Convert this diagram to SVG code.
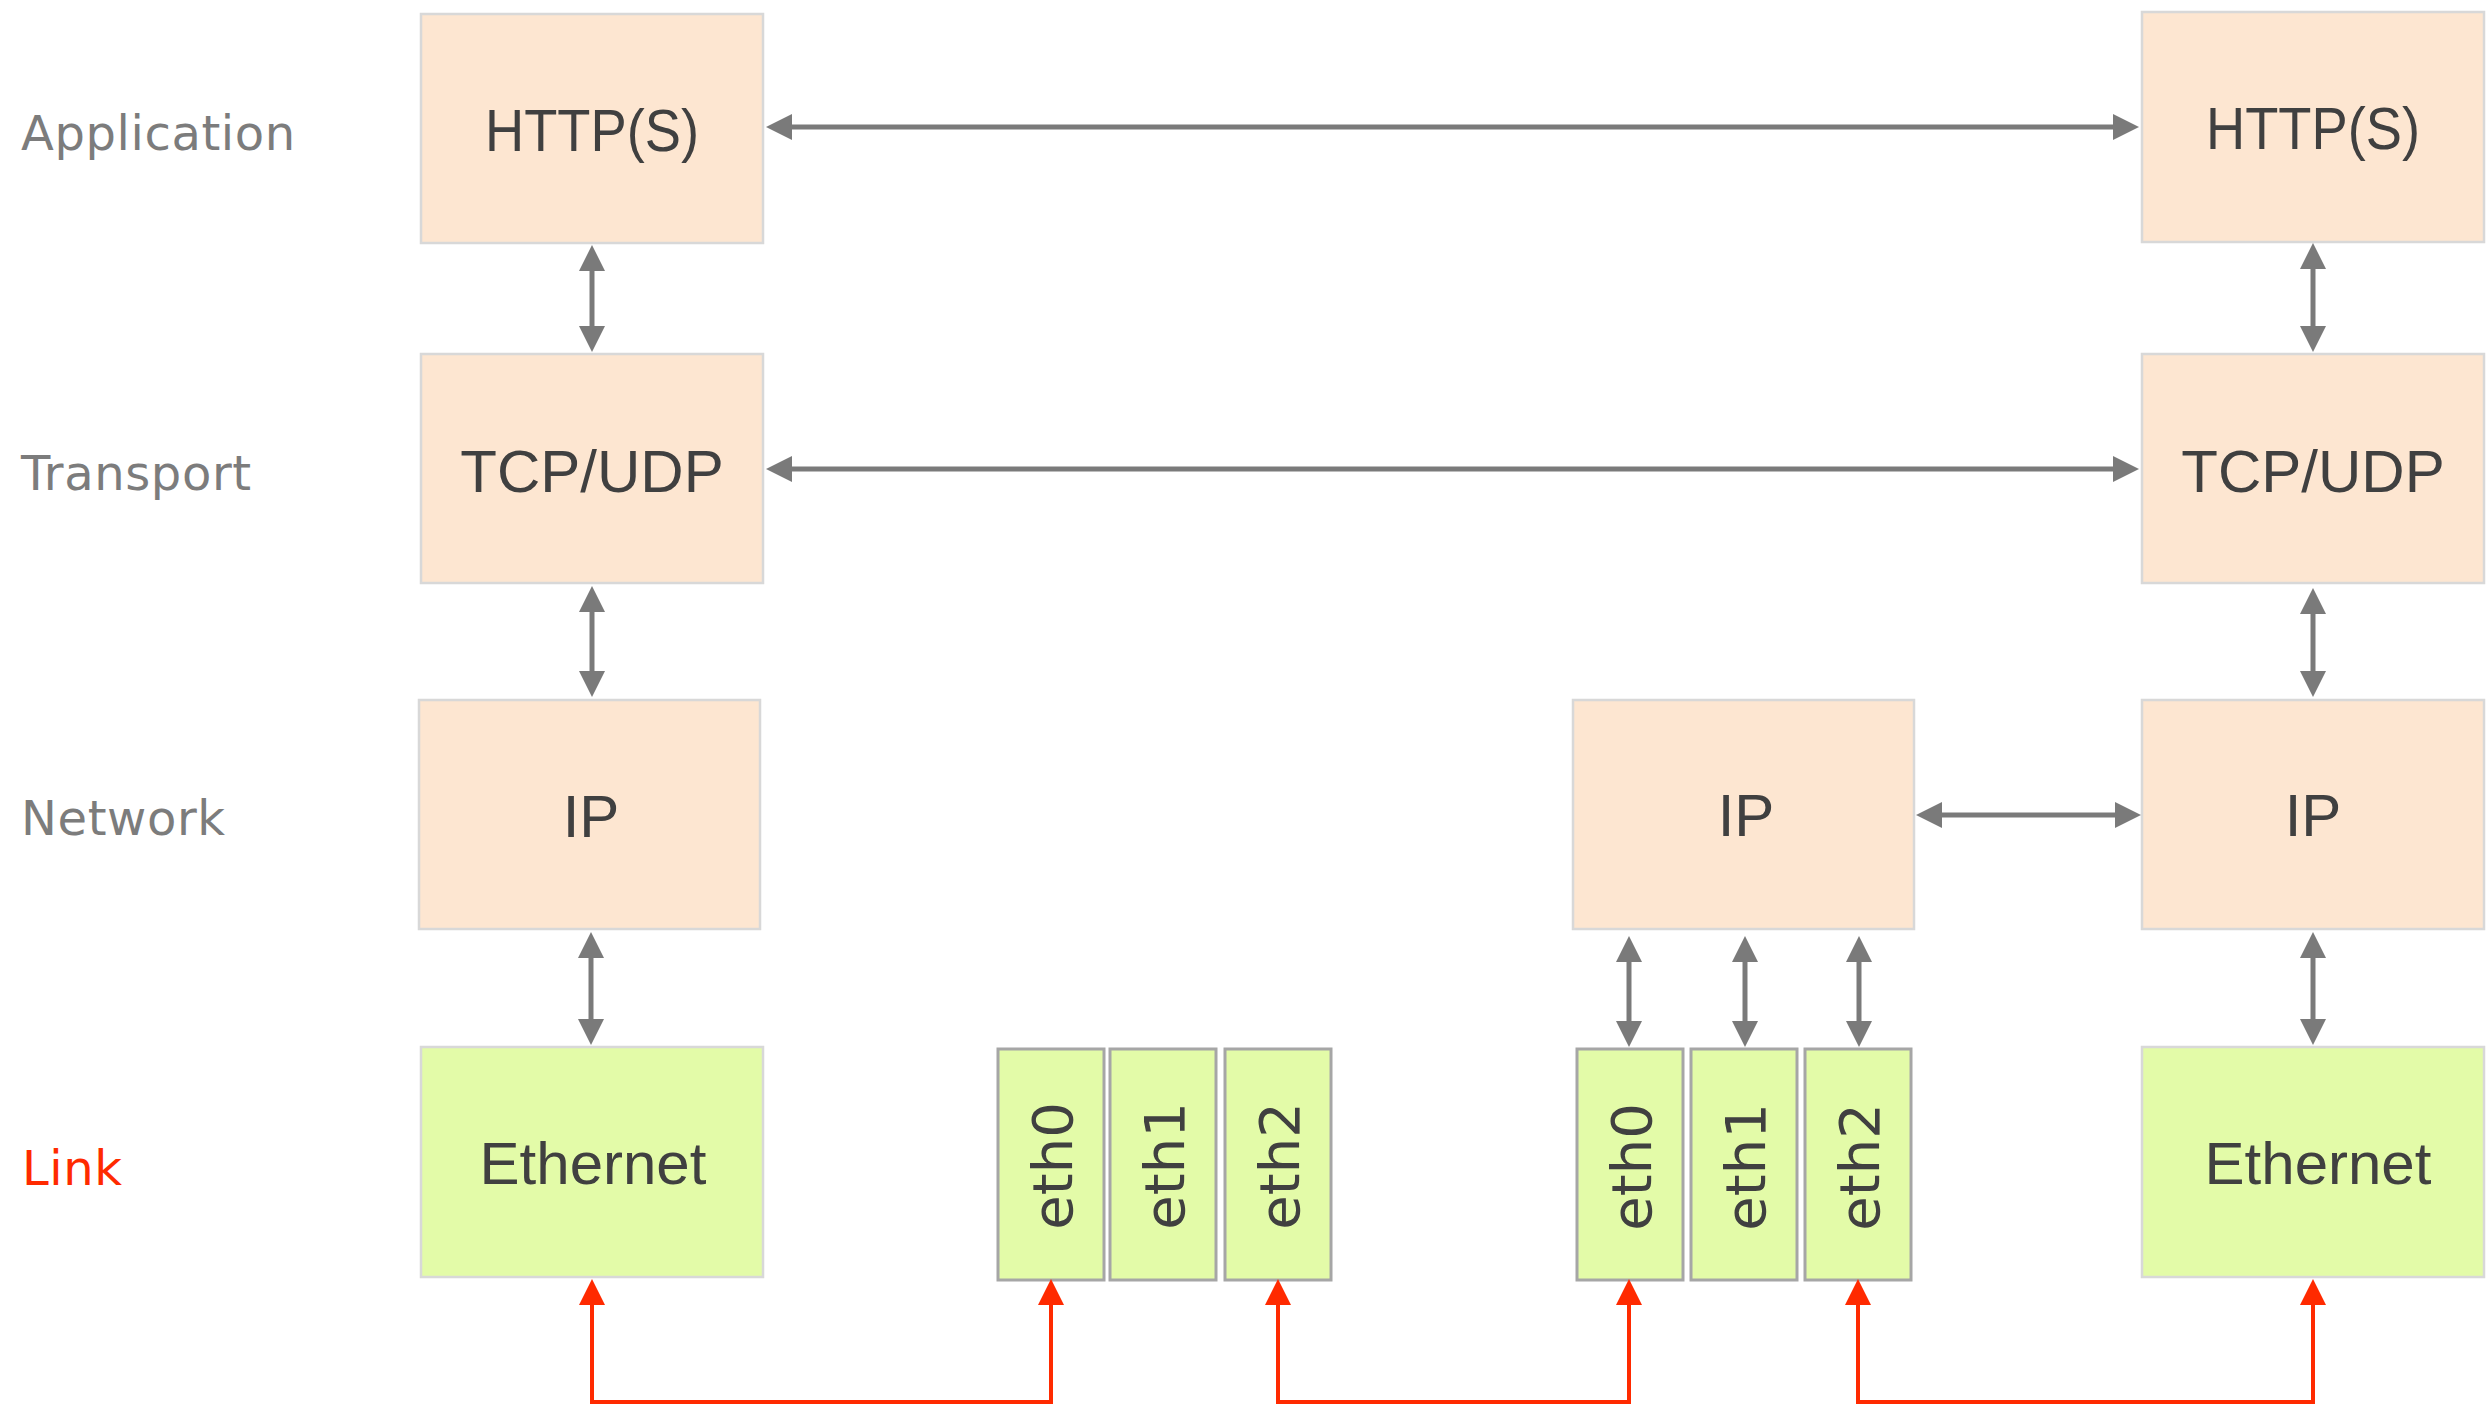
<svg xmlns="http://www.w3.org/2000/svg" width="2492" height="1404" viewBox="0 0 2492 1404">
<style>
.box{fill:#fde6d1;stroke:#d8d8d8;stroke-width:2.5}
.lk{fill:#e3fba8;stroke:#d8d8d8;stroke-width:2.5}
.eth{fill:#e3fba8;stroke:#a6a6a6;stroke-width:3}
.t{font-family:"Liberation Sans",Arial,sans-serif;font-size:60px;fill:#404040;text-anchor:middle}
.m{font-family:"DejaVu Sans",Verdana,sans-serif;font-size:56px;fill:#404040;text-anchor:middle}
.lbl{font-family:"DejaVu Sans",Verdana,sans-serif;font-size:48px;fill:#7c7c7c;letter-spacing:0.6px}
.g{fill:none;stroke:#7a7a7a;stroke-width:5;marker-start:url(#ga);marker-end:url(#ga)}
.r{fill:none;stroke:#ff2a00;stroke-width:4;marker-start:url(#ra);marker-end:url(#ra)}
</style>
<defs>
<marker id="ga" markerUnits="userSpaceOnUse" markerWidth="26" markerHeight="26" refX="6" refY="13" orient="auto-start-reverse" viewBox="0 0 26 26"><path d="M0,0 L26,13 L0,26 z" fill="#7a7a7a"/></marker>
<marker id="ra" markerUnits="userSpaceOnUse" markerWidth="26" markerHeight="26" refX="4" refY="13" orient="auto-start-reverse" viewBox="0 0 26 26"><path d="M0,0 L26,13 L0,26 z" fill="#ff2a00"/></marker>
</defs>
<rect width="2492" height="1404" fill="#ffffff"/>

<g id="layer-labels">
<text class="lbl" x="21" y="150">Application</text>
<text class="lbl" x="21" y="490">Transport</text>
<text class="lbl" x="21" y="835">Network</text>
<text class="lbl" x="22" y="1185" style="fill:#ff2a00">Link</text>
</g>

<g id="left-http"><rect class="box" x="421" y="14" width="342" height="229"/><text class="t" x="592" y="151" textLength="214" lengthAdjust="spacingAndGlyphs">HTTP(S)</text></g>
<g id="left-tcp"><rect class="box" x="421" y="354" width="342" height="229"/><text class="t" x="592" y="492">TCP/UDP</text></g>
<g id="left-ip"><rect class="box" x="419" y="700" width="341" height="229"/><text class="t" x="591" y="837">IP</text></g>
<g id="left-ethernet"><rect class="lk" x="421" y="1047" width="342" height="230"/><text class="t" x="593" y="1184">Ethernet</text></g>

<g id="sw-eth0"><rect class="eth" x="998" y="1049" width="106" height="231"/><text class="m" transform="translate(1072,1166) rotate(-90)">eth0</text></g>
<g id="sw-eth1"><rect class="eth" x="1110" y="1049" width="106" height="231"/><text class="m" transform="translate(1184,1166) rotate(-90)">eth1</text></g>
<g id="sw-eth2"><rect class="eth" x="1225" y="1049" width="106" height="231"/><text class="m" transform="translate(1299,1166) rotate(-90)">eth2</text></g>

<g id="router-ip"><rect class="box" x="1573" y="700" width="341" height="229"/><text class="t" x="1746" y="836">IP</text></g>
<g id="rt-eth0"><rect class="eth" x="1577" y="1049" width="106" height="231"/><text class="m" transform="translate(1651,1167) rotate(-90)">eth0</text></g>
<g id="rt-eth1"><rect class="eth" x="1691" y="1049" width="106" height="231"/><text class="m" transform="translate(1765,1167) rotate(-90)">eth1</text></g>
<g id="rt-eth2"><rect class="eth" x="1805" y="1049" width="106" height="231"/><text class="m" transform="translate(1879,1167) rotate(-90)">eth2</text></g>

<g id="right-http"><rect class="box" x="2142" y="12" width="342" height="230"/><text class="t" x="2313" y="149" textLength="214" lengthAdjust="spacingAndGlyphs">HTTP(S)</text></g>
<g id="right-tcp"><rect class="box" x="2142" y="354" width="342" height="229"/><text class="t" x="2313" y="492">TCP/UDP</text></g>
<g id="right-ip"><rect class="box" x="2142" y="700" width="342" height="229"/><text class="t" x="2313" y="836">IP</text></g>
<g id="right-ethernet"><rect class="lk" x="2142" y="1047" width="342" height="230"/><text class="t" x="2318" y="1184">Ethernet</text></g>

<g id="connectors">
<path class="g" d="M786,127 H2119"/>
<path class="g" d="M786,469 H2119"/>
<path class="g" d="M1936,815 H2121"/>
<path class="g" d="M592,265 V332"/>
<path class="g" d="M592,606 V677"/>
<path class="g" d="M591,952 V1025"/>
<path class="g" d="M2313,263 V332"/>
<path class="g" d="M2313,608 V677"/>
<path class="g" d="M2313,952 V1025"/>
<path class="g" d="M1629,956 V1027"/>
<path class="g" d="M1745,956 V1027"/>
<path class="g" d="M1859,956 V1027"/>
<path class="r" d="M592,1301 V1402 H1051 V1301"/>
<path class="r" d="M1278,1301 V1402 H1629 V1301"/>
<path class="r" d="M1858,1301 V1402 H2313 V1301"/>
</g>
</svg>
